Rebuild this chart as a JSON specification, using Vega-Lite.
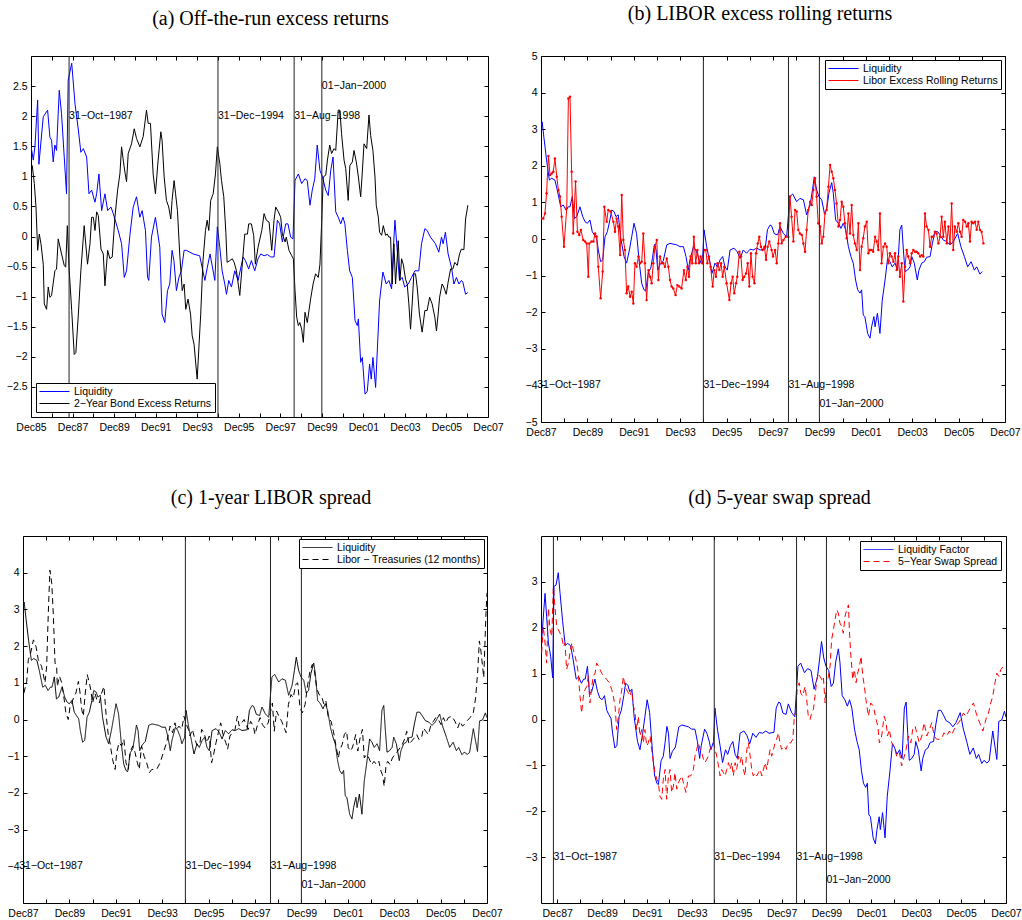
{
"$schema":"https://vega.github.io/schema/vega-lite/v6.json",
"autosize":{"type":"none"},
"padding":{"left":23,"top":56,"right":999,"bottom":864},
"background":"white",
"config":{
"font":"Liberation Sans",
"view":{"stroke":"#000000","strokeWidth":1},
"axis":{"grid":false,"domain":false,"tickColor":"#000000","tickSize":-4,"tickWidth":1,"labelColor":"#000000","labelFont":"Liberation Sans","labelFontSize":10.5,"labelPadding":8,"labelFlush":false,"labelOverlap":false,"labelBound":false},
"axisBottom":{"labelPadding":9},
"legend":{"title":null,"strokeColor":"#000000","fillColor":"#ffffff","padding":3,"cornerRadius":0,"labelFont":"Liberation Sans","labelFontSize":10.5,"labelColor":"#000000","labelLimit":400,"symbolType":"M-1,0H5","symbolSize":100,"symbolStrokeWidth":1,"labelOffset":24,"rowPadding":1,"offset":5},
"title":{"font":"Liberation Serif","fontSize":20,"fontWeight":"normal","color":"#000000","anchor":"middle","baseline":"alphabetic","frame":"group"},
"text":{"font":"Liberation Sans","fontSize":10.5,"align":"left","baseline":"middle","color":"#000000"}
},
"datasets":{
"events":[{"t":1987.833,"label":"31−Oct−1987"},{"t":1995.0,"label":"31−Dec−1994"},{"t":1998.667,"label":"31−Aug−1998"},{"t":2000.0,"label":"01−Jan−2000"}],
"liqA":[{"t":1986.0,"v":1.5},{"t":1986.11,"v":1.27},{"t":1986.19,"v":1.5},{"t":1986.32,"v":2.27},{"t":1986.38,"v":1.2},{"t":1986.59,"v":1.99},{"t":1986.8,"v":2.1},{"t":1986.91,"v":1.65},{"t":1986.99,"v":1.6},{"t":1987.07,"v":1.24},{"t":1987.15,"v":1.52},{"t":1987.23,"v":1.43},{"t":1987.36,"v":2.43},{"t":1987.47,"v":2.04},{"t":1987.6,"v":1.32},{"t":1987.71,"v":0.71},{"t":1987.79,"v":2.6},{"t":1987.96,"v":2.88},{"t":1988.12,"v":2.2},{"t":1988.28,"v":1.77},{"t":1988.4,"v":1.4},{"t":1988.52,"v":1.46},{"t":1988.68,"v":1.32},{"t":1988.79,"v":0.71},{"t":1988.92,"v":0.77},{"t":1989.08,"v":0.57},{"t":1989.16,"v":0.71},{"t":1989.27,"v":1.04},{"t":1989.4,"v":0.43},{"t":1989.56,"v":0.71},{"t":1989.69,"v":0.43},{"t":1989.85,"v":0.49},{"t":1989.96,"v":0.38},{"t":1990.2,"v":0.1},{"t":1990.36,"v":-0.12},{"t":1990.49,"v":-0.68},{"t":1990.6,"v":-0.57},{"t":1990.76,"v":0.02},{"t":1990.92,"v":0.49},{"t":1991.08,"v":0.66},{"t":1991.24,"v":0.32},{"t":1991.35,"v":0.43},{"t":1991.51,"v":0.1},{"t":1991.61,"v":-0.68},{"t":1991.67,"v":-0.73},{"t":1991.8,"v":-0.01},{"t":1991.99,"v":0.32},{"t":1992.2,"v":-0.18},{"t":1992.31,"v":-1.29},{"t":1992.44,"v":-1.43},{"t":1992.57,"v":-0.9},{"t":1992.68,"v":-0.79},{"t":1992.79,"v":-0.23},{"t":1992.88,"v":-0.4},{"t":1993.0,"v":-0.9},{"t":1993.12,"v":-0.68},{"t":1993.24,"v":-0.57},{"t":1993.37,"v":-0.23},{"t":1993.48,"v":-0.23},{"t":1993.8,"v":-0.29},{"t":1994.12,"v":-0.32},{"t":1994.37,"v":-0.73},{"t":1994.49,"v":-0.51},{"t":1994.62,"v":-0.29},{"t":1994.85,"v":-0.73},{"t":1994.97,"v":0.16},{"t":1995.09,"v":-0.18},{"t":1995.2,"v":-0.57},{"t":1995.33,"v":-0.79},{"t":1995.41,"v":-0.96},{"t":1995.52,"v":-0.73},{"t":1995.65,"v":-0.84},{"t":1995.81,"v":-0.57},{"t":1995.97,"v":-0.73},{"t":1996.21,"v":-0.34},{"t":1996.32,"v":-0.4},{"t":1996.48,"v":-0.54},{"t":1996.61,"v":-0.4},{"t":1996.77,"v":-0.57},{"t":1996.93,"v":-0.37},{"t":1997.06,"v":-0.29},{"t":1997.22,"v":-0.32},{"t":1997.38,"v":-0.3},{"t":1997.54,"v":-0.34},{"t":1997.7,"v":-0.34},{"t":1997.86,"v":0.27},{"t":1997.97,"v":0.21},{"t":1998.1,"v":-0.09},{"t":1998.26,"v":0.21},{"t":1998.37,"v":0.21},{"t":1998.5,"v":-0.01},{"t":1998.61,"v":-0.04},{"t":1998.71,"v":0.93},{"t":1998.87,"v":1.04},{"t":1999.03,"v":0.88},{"t":1999.19,"v":0.96},{"t":1999.3,"v":0.93},{"t":1999.43,"v":0.52},{"t":1999.54,"v":0.77},{"t":1999.66,"v":0.96},{"t":1999.78,"v":1.52},{"t":1999.91,"v":1.1},{"t":2000.03,"v":0.99},{"t":2000.19,"v":0.77},{"t":2000.31,"v":0.68},{"t":2000.43,"v":1.1},{"t":2000.54,"v":1.32},{"t":2000.67,"v":0.41},{"t":2000.79,"v":0.32},{"t":2000.91,"v":0.21},{"t":2001.02,"v":0.32},{"t":2001.11,"v":0.21},{"t":2001.23,"v":-0.23},{"t":2001.34,"v":-0.57},{"t":2001.47,"v":-0.68},{"t":2001.6,"v":-1.4},{"t":2001.71,"v":-1.48},{"t":2001.76,"v":-1.37},{"t":2001.87,"v":-2.09},{"t":2001.95,"v":-2.01},{"t":2002.08,"v":-2.62},{"t":2002.19,"v":-2.57},{"t":2002.3,"v":-2.12},{"t":2002.38,"v":-2.37},{"t":2002.46,"v":-2.01},{"t":2002.59,"v":-2.51},{"t":2002.78,"v":-1.07},{"t":2002.94,"v":-0.59},{"t":2003.1,"v":-0.79},{"t":2003.23,"v":-0.73},{"t":2003.36,"v":-0.87},{"t":2003.44,"v":-0.23},{"t":2003.52,"v":0.27},{"t":2003.63,"v":-0.23},{"t":2003.74,"v":-0.73},{"t":2003.87,"v":-0.68},{"t":2003.99,"v":-0.84},{"t":2004.16,"v":-0.79},{"t":2004.32,"v":-0.68},{"t":2004.48,"v":-0.57},{"t":2004.67,"v":-0.57},{"t":2004.8,"v":-0.12},{"t":2004.96,"v":0.13},{"t":2005.07,"v":0.1},{"t":2005.23,"v":-0.01},{"t":2005.47,"v":-0.12},{"t":2005.63,"v":-0.26},{"t":2005.76,"v":-0.01},{"t":2005.84,"v":-0.12},{"t":2005.95,"v":0.07},{"t":2006.08,"v":-0.29},{"t":2006.24,"v":-0.51},{"t":2006.36,"v":-0.79},{"t":2006.48,"v":-0.68},{"t":2006.6,"v":-0.79},{"t":2006.72,"v":-0.73},{"t":2006.79,"v":-0.76},{"t":2006.92,"v":-0.96},{"t":2007.03,"v":-0.93}],
"bondA":[{"t":1986.0,"v":1.16},{"t":1986.06,"v":1.18},{"t":1986.16,"v":0.88},{"t":1986.24,"v":0.49},{"t":1986.32,"v":-0.23},{"t":1986.4,"v":0.04},{"t":1986.48,"v":-0.12},{"t":1986.59,"v":-0.46},{"t":1986.64,"v":-1.12},{"t":1986.75,"v":-1.21},{"t":1986.83,"v":-0.84},{"t":1986.91,"v":-1.01},{"t":1986.99,"v":-0.98},{"t":1987.15,"v":-0.57},{"t":1987.23,"v":-0.54},{"t":1987.31,"v":-0.04},{"t":1987.47,"v":-0.29},{"t":1987.6,"v":-0.48},{"t":1987.67,"v":-0.51},{"t":1987.75,"v":0.18},{"t":1987.83,"v":-0.51},{"t":1987.96,"v":-1.23},{"t":1988.08,"v":-1.96},{"t":1988.16,"v":-1.93},{"t":1988.28,"v":-1.29},{"t":1988.4,"v":-0.57},{"t":1988.56,"v":0.18},{"t":1988.72,"v":-0.46},{"t":1988.84,"v":-0.12},{"t":1988.92,"v":0.32},{"t":1989.0,"v":0.32},{"t":1989.08,"v":0.1},{"t":1989.16,"v":0.41},{"t":1989.24,"v":0.35},{"t":1989.37,"v":-0.21},{"t":1989.48,"v":-0.29},{"t":1989.56,"v":-0.82},{"t":1989.69,"v":-0.23},{"t":1989.8,"v":-0.37},{"t":1989.91,"v":-0.34},{"t":1990.04,"v":0.32},{"t":1990.17,"v":0.77},{"t":1990.28,"v":1.04},{"t":1990.36,"v":1.49},{"t":1990.44,"v":1.27},{"t":1990.52,"v":1.07},{"t":1990.6,"v":0.91},{"t":1990.68,"v":1.38},{"t":1990.84,"v":1.54},{"t":1990.97,"v":1.79},{"t":1991.08,"v":1.63},{"t":1991.24,"v":1.49},{"t":1991.4,"v":1.66},{"t":1991.56,"v":2.1},{"t":1991.64,"v":1.88},{"t":1991.75,"v":1.88},{"t":1991.88,"v":1.04},{"t":1991.99,"v":0.71},{"t":1992.12,"v":1.27},{"t":1992.25,"v":1.74},{"t":1992.31,"v":1.6},{"t":1992.41,"v":0.99},{"t":1992.52,"v":0.6},{"t":1992.63,"v":0.49},{"t":1992.73,"v":0.29},{"t":1992.79,"v":0.6},{"t":1992.89,"v":0.93},{"t":1992.96,"v":0.71},{"t":1993.05,"v":0.43},{"t":1993.16,"v":-0.29},{"t":1993.28,"v":-0.9},{"t":1993.37,"v":-0.79},{"t":1993.45,"v":-1.21},{"t":1993.56,"v":-1.04},{"t":1993.68,"v":-1.29},{"t":1993.76,"v":-1.65},{"t":1993.85,"v":-1.79},{"t":1993.92,"v":-2.07},{"t":1994.0,"v":-2.37},{"t":1994.04,"v":-2.12},{"t":1994.17,"v":-1.29},{"t":1994.28,"v":-0.4},{"t":1994.4,"v":0.1},{"t":1994.48,"v":0.27},{"t":1994.56,"v":0.1},{"t":1994.65,"v":0.6},{"t":1994.77,"v":0.71},{"t":1994.88,"v":1.04},{"t":1994.97,"v":1.49},{"t":1995.09,"v":1.21},{"t":1995.17,"v":0.93},{"t":1995.28,"v":0.66},{"t":1995.38,"v":0.07},{"t":1995.44,"v":-0.43},{"t":1995.57,"v":-0.4},{"t":1995.69,"v":-0.37},{"t":1995.78,"v":-0.43},{"t":1995.89,"v":-0.57},{"t":1996.05,"v":-0.98},{"t":1996.16,"v":-0.51},{"t":1996.29,"v":0.04},{"t":1996.42,"v":0.04},{"t":1996.48,"v":0.21},{"t":1996.61,"v":0.21},{"t":1996.72,"v":0.02},{"t":1996.8,"v":-0.46},{"t":1996.93,"v":-0.18},{"t":1997.11,"v":0.1},{"t":1997.22,"v":0.38},{"t":1997.33,"v":0.27},{"t":1997.46,"v":0.24},{"t":1997.59,"v":-0.23},{"t":1997.7,"v":0.27},{"t":1997.78,"v":0.49},{"t":1997.91,"v":0.41},{"t":1998.02,"v":0.32},{"t":1998.1,"v":0.04},{"t":1998.23,"v":-0.09},{"t":1998.29,"v":-0.01},{"t":1998.42,"v":-0.23},{"t":1998.55,"v":-0.32},{"t":1998.63,"v":-0.37},{"t":1998.71,"v":-0.9},{"t":1998.79,"v":-1.34},{"t":1998.87,"v":-1.48},{"t":1998.94,"v":-1.43},{"t":1999.03,"v":-1.54},{"t":1999.11,"v":-1.76},{"t":1999.19,"v":-1.26},{"t":1999.3,"v":-1.43},{"t":1999.46,"v":-1.04},{"t":1999.58,"v":-0.79},{"t":1999.7,"v":-0.62},{"t":1999.83,"v":-0.68},{"t":1999.91,"v":-0.46},{"t":1999.99,"v":0.21},{"t":2000.07,"v":0.99},{"t":2000.19,"v":1.02},{"t":2000.27,"v":1.27},{"t":2000.38,"v":1.52},{"t":2000.47,"v":1.38},{"t":2000.59,"v":1.46},{"t":2000.67,"v":1.43},{"t":2000.79,"v":2.1},{"t":2000.87,"v":2.1},{"t":2000.95,"v":1.71},{"t":2001.07,"v":1.27},{"t":2001.15,"v":1.13},{"t":2001.27,"v":0.6},{"t":2001.35,"v":1.18},{"t":2001.47,"v":1.24},{"t":2001.55,"v":1.43},{"t":2001.66,"v":1.24},{"t":2001.76,"v":0.99},{"t":2001.87,"v":0.66},{"t":2001.95,"v":1.07},{"t":2002.03,"v":1.54},{"t":2002.16,"v":1.46},{"t":2002.27,"v":2.02},{"t":2002.35,"v":1.68},{"t":2002.46,"v":1.43},{"t":2002.56,"v":0.99},{"t":2002.62,"v":0.52},{"t":2002.72,"v":0.32},{"t":2002.78,"v":0.07},{"t":2002.88,"v":0.02},{"t":2002.96,"v":0.18},{"t":2003.07,"v":0.02},{"t":2003.15,"v":0.04},{"t":2003.23,"v":-0.01},{"t":2003.31,"v":-0.01},{"t":2003.39,"v":-0.79},{"t":2003.47,"v":-0.12},{"t":2003.55,"v":-0.79},{"t":2003.68,"v":-0.07},{"t":2003.76,"v":-0.73},{"t":2003.84,"v":-0.37},{"t":2003.92,"v":-0.46},{"t":2004.03,"v":-0.71},{"t":2004.11,"v":-0.79},{"t":2004.19,"v":-1.12},{"t":2004.27,"v":-1.54},{"t":2004.35,"v":-1.12},{"t":2004.43,"v":-0.62},{"t":2004.51,"v":-0.62},{"t":2004.59,"v":-0.84},{"t":2004.7,"v":-1.29},{"t":2004.83,"v":-1.59},{"t":2004.96,"v":-1.23},{"t":2005.07,"v":-1.23},{"t":2005.19,"v":-1.01},{"t":2005.31,"v":-1.12},{"t":2005.44,"v":-1.34},{"t":2005.52,"v":-1.57},{"t":2005.6,"v":-1.29},{"t":2005.67,"v":-1.01},{"t":2005.79,"v":-0.79},{"t":2005.87,"v":-0.84},{"t":2005.99,"v":-0.96},{"t":2006.08,"v":-0.76},{"t":2006.2,"v":-0.54},{"t":2006.31,"v":-0.54},{"t":2006.4,"v":-0.43},{"t":2006.52,"v":-0.48},{"t":2006.63,"v":-0.29},{"t":2006.72,"v":-0.21},{"t":2006.84,"v":-0.22},{"t":2006.92,"v":0.29},{"t":2007.03,"v":0.52}],
"liq":[{"t":1987.31,"v":1.74},{"t":1987.46,"v":2.75},{"t":1987.53,"v":2.25},{"t":1987.61,"v":1.67},{"t":1987.71,"v":1.38},{"t":1987.8,"v":0.91},{"t":1987.86,"v":2.9},{"t":1987.95,"v":2.93},{"t":1988.05,"v":3.2},{"t":1988.13,"v":2.75},{"t":1988.24,"v":2.16},{"t":1988.36,"v":1.61},{"t":1988.46,"v":1.66},{"t":1988.6,"v":1.61},{"t":1988.7,"v":1.34},{"t":1988.85,"v":0.88},{"t":1988.96,"v":0.93},{"t":1989.08,"v":0.79},{"t":1989.18,"v":0.88},{"t":1989.25,"v":0.88},{"t":1989.35,"v":1.16},{"t":1989.44,"v":0.56},{"t":1989.54,"v":0.61},{"t":1989.68,"v":0.88},{"t":1989.8,"v":0.61},{"t":1989.9,"v":0.47},{"t":1990.0,"v":0.43},{"t":1990.11,"v":0.52},{"t":1990.21,"v":0.2},{"t":1990.3,"v":0.11},{"t":1990.4,"v":0.02},{"t":1990.47,"v":-0.3},{"t":1990.57,"v":-0.62},{"t":1990.66,"v":-0.57},{"t":1990.76,"v":0.06},{"t":1990.86,"v":0.2},{"t":1990.97,"v":0.52},{"t":1991.05,"v":0.79},{"t":1991.15,"v":0.75},{"t":1991.23,"v":0.61},{"t":1991.33,"v":0.66},{"t":1991.43,"v":0.06},{"t":1991.58,"v":-0.48},{"t":1991.69,"v":-0.66},{"t":1991.81,"v":-0.3},{"t":1991.91,"v":0.06},{"t":1992.01,"v":0.43},{"t":1992.12,"v":0.15},{"t":1992.24,"v":-0.66},{"t":1992.34,"v":-1.21},{"t":1992.44,"v":-1.39},{"t":1992.51,"v":-1.42},{"t":1992.63,"v":-0.9},{"t":1992.73,"v":-0.8},{"t":1992.81,"v":-0.5},{"t":1992.89,"v":-0.15},{"t":1992.96,"v":-0.3},{"t":1993.03,"v":-0.85},{"t":1993.13,"v":-0.7},{"t":1993.27,"v":-0.6},{"t":1993.42,"v":-0.16},{"t":1993.56,"v":-0.12},{"t":1993.85,"v":-0.16},{"t":1993.99,"v":-0.21},{"t":1994.14,"v":-0.21},{"t":1994.25,"v":-0.48},{"t":1994.35,"v":-0.85},{"t":1994.42,"v":-0.57},{"t":1994.57,"v":-0.21},{"t":1994.67,"v":-0.3},{"t":1994.78,"v":-0.48},{"t":1994.85,"v":-0.66},{"t":1994.97,"v":-0.48},{"t":1995.03,"v":0.25},{"t":1995.14,"v":-0.21},{"t":1995.26,"v":-0.57},{"t":1995.37,"v":-0.94},{"t":1995.5,"v":-0.66},{"t":1995.6,"v":-0.76},{"t":1995.72,"v":-0.57},{"t":1995.83,"v":-0.48},{"t":1995.93,"v":-0.76},{"t":1996.03,"v":-0.85},{"t":1996.15,"v":-0.3},{"t":1996.32,"v":-0.25},{"t":1996.46,"v":-0.35},{"t":1996.58,"v":-0.53},{"t":1996.72,"v":-0.3},{"t":1996.86,"v":-0.39},{"t":1997.01,"v":-0.28},{"t":1997.15,"v":-0.3},{"t":1997.3,"v":-0.25},{"t":1997.44,"v":-0.3},{"t":1997.66,"v":-0.28},{"t":1997.76,"v":0.25},{"t":1997.87,"v":0.38},{"t":1997.94,"v":0.36},{"t":1998.06,"v":0.14},{"t":1998.2,"v":0.11},{"t":1998.3,"v":0.34},{"t":1998.45,"v":0.15},{"t":1998.59,"v":0.06},{"t":1998.73,"v":1.16},{"t":1998.85,"v":1.23},{"t":1999.02,"v":1.02},{"t":1999.16,"v":1.11},{"t":1999.31,"v":1.07},{"t":1999.45,"v":0.66},{"t":1999.6,"v":0.93},{"t":1999.7,"v":1.34},{"t":1999.78,"v":1.7},{"t":1999.88,"v":1.34},{"t":1999.98,"v":1.16},{"t":2000.1,"v":1.07},{"t":2000.21,"v":0.72},{"t":2000.31,"v":0.79},{"t":2000.41,"v":1.25},{"t":2000.53,"v":1.54},{"t":2000.6,"v":1.25},{"t":2000.7,"v":0.52},{"t":2000.82,"v":0.43},{"t":2000.93,"v":0.29},{"t":2001.03,"v":0.43},{"t":2001.13,"v":0.25},{"t":2001.25,"v":-0.21},{"t":2001.36,"v":-0.48},{"t":2001.46,"v":-0.66},{"t":2001.56,"v":-1.12},{"t":2001.65,"v":-1.39},{"t":2001.75,"v":-1.48},{"t":2001.82,"v":-1.39},{"t":2001.89,"v":-2.08},{"t":2001.96,"v":-2.12},{"t":2002.08,"v":-2.58},{"t":2002.18,"v":-2.71},{"t":2002.25,"v":-2.4},{"t":2002.35,"v":-2.12},{"t":2002.4,"v":-2.4},{"t":2002.5,"v":-2.03},{"t":2002.61,"v":-2.58},{"t":2002.71,"v":-1.67},{"t":2002.83,"v":-1.12},{"t":2002.94,"v":-0.53},{"t":2003.04,"v":-0.62},{"t":2003.14,"v":-0.76},{"t":2003.26,"v":-0.66},{"t":2003.37,"v":-0.85},{"t":2003.47,"v":0.25},{"t":2003.55,"v":0.38},{"t":2003.62,"v":-0.3},{"t":2003.69,"v":-0.89},{"t":2003.8,"v":-0.85},{"t":2003.91,"v":-0.76},{"t":2003.98,"v":-0.48},{"t":2004.09,"v":-0.66},{"t":2004.22,"v":-1.12},{"t":2004.29,"v":-0.85},{"t":2004.41,"v":-0.66},{"t":2004.52,"v":-0.62},{"t":2004.62,"v":-0.5},{"t":2004.77,"v":-0.48},{"t":2004.87,"v":-0.12},{"t":2004.98,"v":0.2},{"t":2005.1,"v":0.2},{"t":2005.2,"v":0.11},{"t":2005.34,"v":-0.03},{"t":2005.49,"v":-0.07},{"t":2005.63,"v":-0.16},{"t":2005.77,"v":-0.07},{"t":2005.96,"v":0.15},{"t":2006.1,"v":-0.21},{"t":2006.25,"v":-0.48},{"t":2006.39,"v":-0.76},{"t":2006.54,"v":-0.62},{"t":2006.68,"v":-0.85},{"t":2006.78,"v":-0.76},{"t":2006.92,"v":-0.96},{"t":2007.02,"v":-0.89},{"t":2007.15,"v":-0.95},{"t":2007.25,"v":-0.9},{"t":2007.41,"v":-0.25},{"t":2007.59,"v":-0.87},{"t":2007.68,"v":-0.04},{"t":2007.81,"v":-0.01},{"t":2007.93,"v":0.18},{"t":2008.0,"v":0.05}],
"libor":[{"t":1988.03,"v":0.56},{"t":1988.1,"v":0.56},{"t":1988.17,"v":0.7},{"t":1988.24,"v":1.25},{"t":1988.32,"v":2.27},{"t":1988.39,"v":1.75},{"t":1988.46,"v":1.79},{"t":1988.53,"v":1.84},{"t":1988.6,"v":2.2},{"t":1988.68,"v":1.7},{"t":1988.75,"v":1.34},{"t":1988.82,"v":1.16},{"t":1988.89,"v":0.61},{"t":1988.99,"v":-0.21},{"t":1989.11,"v":0.84},{"t":1989.18,"v":3.84},{"t":1989.25,"v":3.89},{"t":1989.32,"v":1.84},{"t":1989.39,"v":0.15},{"t":1989.49,"v":1.57},{"t":1989.57,"v":0.2},{"t":1989.65,"v":0.11},{"t":1989.72,"v":0.25},{"t":1989.82,"v":-0.03},{"t":1989.9,"v":-0.07},{"t":1989.97,"v":-0.12},{"t":1990.04,"v":-1.03},{"t":1990.08,"v":-0.12},{"t":1990.18,"v":-0.07},{"t":1990.26,"v":-0.07},{"t":1990.33,"v":0.15},{"t":1990.4,"v":0.06},{"t":1990.47,"v":-0.76},{"t":1990.57,"v":-1.62},{"t":1990.66,"v":-0.89},{"t":1990.73,"v":0.88},{"t":1990.83,"v":0.47},{"t":1990.9,"v":0.79},{"t":1991.0,"v":0.75},{"t":1991.12,"v":0.47},{"t":1991.19,"v":0.2},{"t":1991.26,"v":0.56},{"t":1991.33,"v":0.34},{"t":1991.41,"v":-0.44},{"t":1991.48,"v":1.2},{"t":1991.55,"v":-0.03},{"t":1991.62,"v":-0.3},{"t":1991.69,"v":-1.48},{"t":1991.76,"v":-1.3},{"t":1991.84,"v":-1.58},{"t":1991.91,"v":-1.44},{"t":1991.98,"v":-1.76},{"t":1992.05,"v":-0.66},{"t":1992.12,"v":-0.76},{"t":1992.2,"v":-0.48},{"t":1992.27,"v":-0.66},{"t":1992.34,"v":-0.62},{"t":1992.41,"v":0.15},{"t":1992.48,"v":-0.66},{"t":1992.55,"v":-1.67},{"t":1992.63,"v":-0.85},{"t":1992.7,"v":-1.03},{"t":1992.77,"v":-1.21},{"t":1992.84,"v":-0.66},{"t":1992.91,"v":-0.21},{"t":1992.99,"v":-0.03},{"t":1993.06,"v":-1.12},{"t":1993.13,"v":-0.48},{"t":1993.2,"v":-0.66},{"t":1993.27,"v":-0.66},{"t":1993.34,"v":-0.76},{"t":1993.42,"v":-0.53},{"t":1993.49,"v":-0.76},{"t":1993.56,"v":-1.12},{"t":1993.63,"v":-1.3},{"t":1993.7,"v":-1.35},{"t":1993.8,"v":-1.53},{"t":1993.88,"v":-1.26},{"t":1993.96,"v":-1.3},{"t":1994.06,"v":-1.35},{"t":1994.16,"v":-0.85},{"t":1994.24,"v":-1.12},{"t":1994.31,"v":-0.76},{"t":1994.38,"v":-1.03},{"t":1994.45,"v":-0.48},{"t":1994.52,"v":-0.66},{"t":1994.59,"v":0.06},{"t":1994.67,"v":-0.66},{"t":1994.74,"v":-0.3},{"t":1994.81,"v":-0.66},{"t":1994.88,"v":-0.48},{"t":1994.95,"v":-0.66},{"t":1995.03,"v":-0.3},{"t":1995.1,"v":-0.3},{"t":1995.17,"v":-0.66},{"t":1995.24,"v":-0.48},{"t":1995.31,"v":-0.76},{"t":1995.4,"v":-1.3},{"t":1995.47,"v":-0.85},{"t":1995.54,"v":-1.03},{"t":1995.61,"v":-0.66},{"t":1995.69,"v":-0.85},{"t":1995.76,"v":-0.66},{"t":1995.83,"v":-1.03},{"t":1995.9,"v":-0.76},{"t":1996.0,"v":-1.21},{"t":1996.12,"v":-1.67},{"t":1996.19,"v":-1.21},{"t":1996.26,"v":-1.03},{"t":1996.33,"v":-1.48},{"t":1996.41,"v":-1.21},{"t":1996.46,"v":-1.03},{"t":1996.55,"v":-0.35},{"t":1996.62,"v":-0.48},{"t":1996.69,"v":-1.12},{"t":1996.76,"v":-1.03},{"t":1996.84,"v":-0.94},{"t":1996.91,"v":-0.66},{"t":1996.98,"v":-1.3},{"t":1997.05,"v":-0.39},{"t":1997.12,"v":-1.03},{"t":1997.2,"v":-1.21},{"t":1997.27,"v":-0.39},{"t":1997.34,"v":-0.12},{"t":1997.41,"v":0.06},{"t":1997.48,"v":-0.21},{"t":1997.55,"v":-0.3},{"t":1997.63,"v":-0.21},{"t":1997.7,"v":-0.57},{"t":1997.77,"v":-0.21},{"t":1997.84,"v":-0.07},{"t":1997.94,"v":-0.3},{"t":1998.0,"v":-0.48},{"t":1998.09,"v":-0.3},{"t":1998.16,"v":-0.66},{"t":1998.23,"v":-0.12},{"t":1998.3,"v":0.43},{"t":1998.37,"v":-0.12},{"t":1998.45,"v":-0.03},{"t":1998.55,"v":0.06},{"t":1998.66,"v":0.06},{"t":1998.73,"v":1.16},{"t":1998.8,"v":0.61},{"t":1998.88,"v":-0.07},{"t":1998.95,"v":0.79},{"t":1999.02,"v":0.75},{"t":1999.09,"v":0.25},{"t":1999.16,"v":0.15},{"t":1999.24,"v":0.11},{"t":1999.31,"v":-0.12},{"t":1999.38,"v":-0.35},{"t":1999.45,"v":0.25},{"t":1999.52,"v":0.79},{"t":1999.6,"v":1.02},{"t":1999.67,"v":0.93},{"t":1999.74,"v":1.34},{"t":1999.81,"v":1.66},{"t":1999.88,"v":1.16},{"t":1999.95,"v":0.43},{"t":2000.03,"v":0.34},{"t":2000.1,"v":-0.12},{"t":2000.17,"v":0.06},{"t":2000.24,"v":0.7},{"t":2000.31,"v":0.79},{"t":2000.39,"v":1.43},{"t":2000.46,"v":2.02},{"t":2000.53,"v":1.84},{"t":2000.6,"v":1.66},{"t":2000.67,"v":1.34},{"t":2000.74,"v":0.97},{"t":2000.82,"v":0.34},{"t":2000.89,"v":0.52},{"t":2000.96,"v":1.02},{"t":2001.03,"v":0.88},{"t":2001.1,"v":0.43},{"t":2001.18,"v":0.02},{"t":2001.25,"v":0.7},{"t":2001.32,"v":0.15},{"t":2001.39,"v":0.93},{"t":2001.46,"v":0.11},{"t":2001.53,"v":-0.12},{"t":2001.61,"v":-0.3},{"t":2001.68,"v":0.43},{"t":2001.75,"v":-0.85},{"t":2001.82,"v":-0.21},{"t":2001.89,"v":0.02},{"t":2001.96,"v":0.34},{"t":2002.04,"v":0.47},{"t":2002.11,"v":-0.39},{"t":2002.18,"v":-0.3},{"t":2002.25,"v":-0.3},{"t":2002.32,"v":-0.35},{"t":2002.4,"v":0.06},{"t":2002.47,"v":-0.07},{"t":2002.54,"v":-0.3},{"t":2002.61,"v":0.7},{"t":2002.68,"v":-0.66},{"t":2002.76,"v":-0.21},{"t":2002.83,"v":-0.12},{"t":2002.9,"v":-0.21},{"t":2002.97,"v":-0.66},{"t":2003.04,"v":-0.39},{"t":2003.11,"v":-0.48},{"t":2003.19,"v":-0.62},{"t":2003.26,"v":-0.39},{"t":2003.33,"v":-0.85},{"t":2003.4,"v":-0.48},{"t":2003.47,"v":-1.03},{"t":2003.55,"v":-0.66},{"t":2003.62,"v":-1.71},{"t":2003.69,"v":-0.76},{"t":2003.76,"v":-0.3},{"t":2003.83,"v":-0.48},{"t":2003.91,"v":-0.66},{"t":2003.98,"v":-0.39},{"t":2004.05,"v":-0.3},{"t":2004.12,"v":-0.35},{"t":2004.19,"v":-0.35},{"t":2004.26,"v":-0.39},{"t":2004.34,"v":-0.48},{"t":2004.41,"v":-0.44},{"t":2004.48,"v":-0.48},{"t":2004.55,"v":0.7},{"t":2004.62,"v":0.34},{"t":2004.7,"v":0.25},{"t":2004.77,"v":-0.21},{"t":2004.84,"v":0.06},{"t":2004.91,"v":0.06},{"t":2004.98,"v":0.2},{"t":2005.05,"v":0.15},{"t":2005.13,"v":-0.12},{"t":2005.2,"v":0.06},{"t":2005.27,"v":0.61},{"t":2005.34,"v":0.06},{"t":2005.41,"v":0.47},{"t":2005.49,"v":-0.12},{"t":2005.56,"v":0.34},{"t":2005.63,"v":-0.12},{"t":2005.7,"v":0.97},{"t":2005.77,"v":-0.3},{"t":2005.84,"v":0.34},{"t":2005.92,"v":0.2},{"t":2005.99,"v":0.43},{"t":2006.06,"v":0.2},{"t":2006.13,"v":0.06},{"t":2006.2,"v":0.52},{"t":2006.28,"v":0.47},{"t":2006.35,"v":0.34},{"t":2006.42,"v":0.43},{"t":2006.49,"v":-0.07},{"t":2006.56,"v":0.47},{"t":2006.63,"v":0.43},{"t":2006.71,"v":0.47},{"t":2006.78,"v":0.25},{"t":2006.85,"v":0.47},{"t":2006.92,"v":0.25},{"t":2006.99,"v":0.2},{"t":2007.07,"v":-0.12}],
"spread":[{"t":1988.04,"v":0.72},{"t":1988.16,"v":1.04},{"t":1988.23,"v":1.63},{"t":1988.33,"v":1.81},{"t":1988.45,"v":2.17},{"t":1988.56,"v":1.99},{"t":1988.66,"v":1.63},{"t":1988.73,"v":1.54},{"t":1988.8,"v":1.45},{"t":1988.95,"v":1.0},{"t":1989.02,"v":1.45},{"t":1989.09,"v":2.9},{"t":1989.16,"v":4.07},{"t":1989.24,"v":3.71},{"t":1989.31,"v":2.81},{"t":1989.38,"v":1.54},{"t":1989.45,"v":1.45},{"t":1989.48,"v":0.9},{"t":1989.57,"v":1.18},{"t":1989.67,"v":1.0},{"t":1989.74,"v":0.72},{"t":1989.85,"v":0.18},{"t":1989.95,"v":0.0},{"t":1990.03,"v":0.36},{"t":1990.1,"v":0.45},{"t":1990.2,"v":0.63},{"t":1990.28,"v":0.72},{"t":1990.39,"v":1.04},{"t":1990.46,"v":0.72},{"t":1990.53,"v":0.27},{"t":1990.6,"v":0.09},{"t":1990.67,"v":0.63},{"t":1990.77,"v":1.22},{"t":1990.86,"v":1.0},{"t":1990.92,"v":0.81},{"t":1991.0,"v":0.45},{"t":1991.1,"v":0.72},{"t":1991.18,"v":0.54},{"t":1991.29,"v":0.45},{"t":1991.39,"v":0.72},{"t":1991.49,"v":0.9},{"t":1991.58,"v":0.14},{"t":1991.68,"v":-0.45},{"t":1991.75,"v":-0.63},{"t":1991.86,"v":-1.09},{"t":1991.97,"v":-1.36},{"t":1992.04,"v":-0.9},{"t":1992.14,"v":-0.63},{"t":1992.25,"v":-0.72},{"t":1992.35,"v":-0.54},{"t":1992.44,"v":-1.18},{"t":1992.54,"v":-1.36},{"t":1992.61,"v":-0.9},{"t":1992.73,"v":-0.72},{"t":1992.83,"v":-0.9},{"t":1992.93,"v":-1.18},{"t":1993.01,"v":-1.36},{"t":1993.11,"v":-0.72},{"t":1993.22,"v":-1.0},{"t":1993.33,"v":-1.18},{"t":1993.45,"v":-1.45},{"t":1993.55,"v":-1.36},{"t":1993.76,"v":-1.36},{"t":1993.91,"v":-1.18},{"t":1994.05,"v":-0.9},{"t":1994.19,"v":-0.63},{"t":1994.34,"v":-0.18},{"t":1994.45,"v":-0.36},{"t":1994.55,"v":-0.09},{"t":1994.62,"v":-0.27},{"t":1994.72,"v":-0.18},{"t":1994.84,"v":-0.27},{"t":1994.94,"v":0.09},{"t":1995.01,"v":-0.09},{"t":1995.13,"v":-0.27},{"t":1995.2,"v":-0.45},{"t":1995.3,"v":-0.27},{"t":1995.41,"v":-0.54},{"t":1995.51,"v":-0.72},{"t":1995.63,"v":-0.63},{"t":1995.7,"v":-0.27},{"t":1995.8,"v":-0.36},{"t":1995.92,"v":-0.63},{"t":1996.03,"v":-0.45},{"t":1996.13,"v":-1.18},{"t":1996.2,"v":-1.0},{"t":1996.32,"v":-0.63},{"t":1996.42,"v":-0.36},{"t":1996.52,"v":-0.09},{"t":1996.64,"v":-0.45},{"t":1996.74,"v":-0.63},{"t":1996.82,"v":-0.81},{"t":1996.92,"v":-0.45},{"t":1997.02,"v":-0.36},{"t":1997.14,"v":-0.27},{"t":1997.24,"v":0.09},{"t":1997.32,"v":-0.18},{"t":1997.43,"v":-0.09},{"t":1997.53,"v":0.0},{"t":1997.64,"v":-0.18},{"t":1997.71,"v":-0.27},{"t":1997.81,"v":-0.05},{"t":1997.93,"v":-0.18},{"t":1998.0,"v":-0.41},{"t":1998.11,"v":-0.14},{"t":1998.22,"v":0.05},{"t":1998.32,"v":-0.14},{"t":1998.43,"v":-0.23},{"t":1998.57,"v":-0.09},{"t":1998.75,"v":0.45},{"t":1998.83,"v":-0.32},{"t":1998.93,"v":0.23},{"t":1999.03,"v":0.09},{"t":1999.15,"v":-0.05},{"t":1999.26,"v":-0.23},{"t":1999.34,"v":-0.36},{"t":1999.44,"v":0.41},{"t":1999.55,"v":0.68},{"t":1999.65,"v":0.59},{"t":1999.75,"v":0.95},{"t":1999.84,"v":1.0},{"t":1999.94,"v":0.32},{"t":2000.04,"v":0.18},{"t":2000.16,"v":0.41},{"t":2000.27,"v":0.95},{"t":2000.37,"v":1.32},{"t":2000.47,"v":1.5},{"t":2000.56,"v":1.32},{"t":2000.66,"v":0.86},{"t":2000.76,"v":0.68},{"t":2000.87,"v":0.64},{"t":2000.97,"v":0.41},{"t":2001.06,"v":0.5},{"t":2001.16,"v":0.05},{"t":2001.28,"v":-0.05},{"t":2001.38,"v":-0.32},{"t":2001.48,"v":-0.68},{"t":2001.59,"v":-1.05},{"t":2001.66,"v":-0.82},{"t":2001.76,"v":-0.68},{"t":2001.85,"v":-0.41},{"t":2001.95,"v":-0.32},{"t":2002.02,"v":-0.77},{"t":2002.14,"v":-0.86},{"t":2002.24,"v":-0.68},{"t":2002.34,"v":-0.41},{"t":2002.43,"v":-0.86},{"t":2002.53,"v":-0.5},{"t":2002.63,"v":-0.27},{"t":2002.71,"v":-1.05},{"t":2002.81,"v":-0.95},{"t":2002.91,"v":-1.05},{"t":2003.03,"v":-1.23},{"t":2003.13,"v":-1.14},{"t":2003.24,"v":-1.23},{"t":2003.34,"v":-1.14},{"t":2003.43,"v":-1.41},{"t":2003.49,"v":-1.5},{"t":2003.57,"v":-1.82},{"t":2003.65,"v":-1.23},{"t":2003.72,"v":-1.14},{"t":2003.82,"v":-1.23},{"t":2003.92,"v":-1.05},{"t":2004.03,"v":-0.95},{"t":2004.15,"v":-0.86},{"t":2004.25,"v":-0.77},{"t":2004.35,"v":-0.68},{"t":2004.47,"v":-0.5},{"t":2004.54,"v":-0.32},{"t":2004.64,"v":-0.68},{"t":2004.75,"v":-0.59},{"t":2004.87,"v":-0.5},{"t":2004.97,"v":-0.41},{"t":2005.07,"v":-0.55},{"t":2005.18,"v":-0.5},{"t":2005.26,"v":-0.23},{"t":2005.36,"v":-0.32},{"t":2005.47,"v":-0.41},{"t":2005.59,"v":-0.14},{"t":2005.69,"v":-0.05},{"t":2005.79,"v":0.05},{"t":2005.9,"v":0.0},{"t":2006.02,"v":-0.14},{"t":2006.12,"v":0.05},{"t":2006.22,"v":-0.09},{"t":2006.33,"v":0.05},{"t":2006.48,"v":0.09},{"t":2006.62,"v":-0.05},{"t":2006.74,"v":-0.23},{"t":2006.84,"v":-0.05},{"t":2006.94,"v":-0.18},{"t":2007.02,"v":-0.14},{"t":2007.12,"v":-0.05},{"t":2007.27,"v":0.05},{"t":2007.41,"v":0.18},{"t":2007.51,"v":0.59},{"t":2007.6,"v":1.32},{"t":2007.67,"v":2.14},{"t":2007.74,"v":1.86},{"t":2007.8,"v":1.5},{"t":2007.86,"v":1.14},{"t":2007.91,"v":2.05},{"t":2007.96,"v":2.95},{"t":2008.0,"v":3.45}],
"swap":[{"t":1987.31,"v":1.45},{"t":1987.38,"v":2.03},{"t":1987.46,"v":1.67},{"t":1987.53,"v":1.23},{"t":1987.61,"v":2.43},{"t":1987.68,"v":1.96},{"t":1987.76,"v":1.81},{"t":1987.83,"v":2.9},{"t":1987.9,"v":2.46},{"t":1987.98,"v":2.03},{"t":1988.05,"v":1.96},{"t":1988.13,"v":1.88},{"t":1988.2,"v":1.81},{"t":1988.28,"v":1.59},{"t":1988.35,"v":1.67},{"t":1988.42,"v":1.09},{"t":1988.5,"v":1.23},{"t":1988.57,"v":1.45},{"t":1988.65,"v":1.67},{"t":1988.72,"v":1.52},{"t":1988.8,"v":1.38},{"t":1988.87,"v":1.23},{"t":1988.94,"v":1.01},{"t":1989.02,"v":0.51},{"t":1989.09,"v":0.14},{"t":1989.17,"v":0.51},{"t":1989.24,"v":0.65},{"t":1989.32,"v":0.72},{"t":1989.39,"v":0.94},{"t":1989.46,"v":0.36},{"t":1989.54,"v":0.72},{"t":1989.61,"v":0.94},{"t":1989.69,"v":1.01},{"t":1989.76,"v":1.23},{"t":1989.84,"v":1.16},{"t":1989.91,"v":1.09},{"t":1989.98,"v":1.01},{"t":1990.09,"v":0.94},{"t":1990.21,"v":0.87},{"t":1990.33,"v":0.8},{"t":1990.43,"v":0.65},{"t":1990.5,"v":0.51},{"t":1990.58,"v":0.29},{"t":1990.65,"v":-0.22},{"t":1990.73,"v":0.07},{"t":1990.8,"v":0.43},{"t":1990.88,"v":0.65},{"t":1990.95,"v":0.94},{"t":1991.02,"v":0.72},{"t":1991.1,"v":0.65},{"t":1991.17,"v":0.58},{"t":1991.25,"v":0.51},{"t":1991.32,"v":0.65},{"t":1991.4,"v":0.29},{"t":1991.47,"v":0.14},{"t":1991.54,"v":-0.22},{"t":1991.62,"v":0.07},{"t":1991.69,"v":-0.36},{"t":1991.77,"v":-0.22},{"t":1991.84,"v":-0.51},{"t":1991.91,"v":-0.22},{"t":1991.99,"v":-0.58},{"t":1992.06,"v":-0.51},{"t":1992.14,"v":-0.36},{"t":1992.21,"v":-0.65},{"t":1992.29,"v":-0.94},{"t":1992.36,"v":-1.16},{"t":1992.44,"v":-1.3},{"t":1992.51,"v":-1.38},{"t":1992.58,"v":-1.67},{"t":1992.66,"v":-1.74},{"t":1992.73,"v":-1.3},{"t":1992.81,"v":-1.09},{"t":1992.88,"v":-1.74},{"t":1992.96,"v":-1.23},{"t":1993.03,"v":-1.09},{"t":1993.1,"v":-1.59},{"t":1993.18,"v":-1.45},{"t":1993.25,"v":-1.16},{"t":1993.33,"v":-1.52},{"t":1993.4,"v":-1.38},{"t":1993.48,"v":-1.3},{"t":1993.55,"v":-1.23},{"t":1993.66,"v":-1.45},{"t":1993.74,"v":-1.59},{"t":1993.85,"v":-1.23},{"t":1993.95,"v":-1.23},{"t":1994.07,"v":-1.09},{"t":1994.14,"v":-0.8},{"t":1994.22,"v":-0.65},{"t":1994.29,"v":-0.51},{"t":1994.37,"v":-0.65},{"t":1994.44,"v":-0.72},{"t":1994.52,"v":-0.87},{"t":1994.59,"v":-0.94},{"t":1994.66,"v":-0.87},{"t":1994.74,"v":-0.8},{"t":1994.81,"v":-0.65},{"t":1994.89,"v":-0.58},{"t":1994.96,"v":-0.51},{"t":1995.04,"v":-0.65},{"t":1995.11,"v":-0.8},{"t":1995.19,"v":-1.01},{"t":1995.26,"v":-1.23},{"t":1995.33,"v":-1.09},{"t":1995.41,"v":-1.16},{"t":1995.48,"v":-1.23},{"t":1995.56,"v":-1.09},{"t":1995.63,"v":-0.94},{"t":1995.71,"v":-1.09},{"t":1995.78,"v":-0.94},{"t":1995.85,"v":-1.23},{"t":1995.93,"v":-0.94},{"t":1996.0,"v":-1.09},{"t":1996.08,"v":-0.8},{"t":1996.15,"v":-0.94},{"t":1996.22,"v":-0.8},{"t":1996.3,"v":-1.09},{"t":1996.37,"v":-1.23},{"t":1996.45,"v":-0.65},{"t":1996.52,"v":-0.51},{"t":1996.6,"v":-0.8},{"t":1996.67,"v":-1.09},{"t":1996.74,"v":-1.23},{"t":1996.82,"v":-1.16},{"t":1996.89,"v":-1.23},{"t":1996.97,"v":-1.16},{"t":1997.04,"v":-1.09},{"t":1997.12,"v":-1.23},{"t":1997.19,"v":-1.09},{"t":1997.27,"v":-0.94},{"t":1997.34,"v":-1.09},{"t":1997.41,"v":-0.87},{"t":1997.49,"v":-0.65},{"t":1997.56,"v":-0.8},{"t":1997.64,"v":-0.65},{"t":1997.71,"v":-0.51},{"t":1997.78,"v":-0.43},{"t":1997.86,"v":-0.29},{"t":1997.93,"v":-0.51},{"t":1998.0,"v":-0.65},{"t":1998.11,"v":-0.58},{"t":1998.2,"v":-0.65},{"t":1998.3,"v":-0.51},{"t":1998.41,"v":-0.51},{"t":1998.5,"v":-0.43},{"t":1998.56,"v":0.0},{"t":1998.64,"v":0.22},{"t":1998.7,"v":0.72},{"t":1998.79,"v":0.8},{"t":1998.85,"v":0.58},{"t":1998.94,"v":0.51},{"t":1999.05,"v":0.72},{"t":1999.12,"v":0.43},{"t":1999.19,"v":0.07},{"t":1999.27,"v":0.0},{"t":1999.34,"v":0.14},{"t":1999.42,"v":0.22},{"t":1999.49,"v":0.51},{"t":1999.57,"v":0.87},{"t":1999.64,"v":1.01},{"t":1999.71,"v":0.94},{"t":1999.79,"v":0.87},{"t":1999.86,"v":0.94},{"t":1999.94,"v":0.36},{"t":2000.01,"v":0.8},{"t":2000.09,"v":0.94},{"t":2000.16,"v":1.16},{"t":2000.23,"v":1.74},{"t":2000.31,"v":1.96},{"t":2000.38,"v":2.17},{"t":2000.46,"v":2.39},{"t":2000.53,"v":2.32},{"t":2000.6,"v":2.1},{"t":2000.68,"v":2.03},{"t":2000.75,"v":1.88},{"t":2000.83,"v":2.25},{"t":2000.9,"v":2.39},{"t":2000.98,"v":2.5},{"t":2001.02,"v":1.96},{"t":2001.08,"v":1.45},{"t":2001.17,"v":0.87},{"t":2001.24,"v":1.09},{"t":2001.32,"v":0.8},{"t":2001.39,"v":1.01},{"t":2001.47,"v":1.16},{"t":2001.54,"v":1.38},{"t":2001.62,"v":0.94},{"t":2001.69,"v":0.72},{"t":2001.76,"v":0.43},{"t":2001.87,"v":0.07},{"t":2001.97,"v":0.36},{"t":2002.09,"v":0.29},{"t":2002.21,"v":0.0},{"t":2002.29,"v":-0.14},{"t":2002.36,"v":-0.51},{"t":2002.46,"v":-0.36},{"t":2002.57,"v":0.07},{"t":2002.66,"v":-0.07},{"t":2002.72,"v":-0.36},{"t":2002.8,"v":-0.22},{"t":2002.91,"v":-0.51},{"t":2003.01,"v":-0.58},{"t":2003.13,"v":-0.8},{"t":2003.25,"v":-0.72},{"t":2003.35,"v":-1.01},{"t":2003.43,"v":-0.87},{"t":2003.55,"v":-0.65},{"t":2003.65,"v":-0.36},{"t":2003.76,"v":-0.51},{"t":2003.84,"v":-0.22},{"t":2003.95,"v":-0.14},{"t":2004.02,"v":-0.29},{"t":2004.14,"v":-0.51},{"t":2004.25,"v":-0.36},{"t":2004.35,"v":-0.07},{"t":2004.47,"v":-0.36},{"t":2004.59,"v":-0.22},{"t":2004.69,"v":-0.07},{"t":2004.8,"v":-0.36},{"t":2004.91,"v":-0.43},{"t":2005.03,"v":-0.43},{"t":2005.14,"v":-0.4},{"t":2005.24,"v":-0.29},{"t":2005.36,"v":-0.36},{"t":2005.48,"v":-0.25},{"t":2005.58,"v":-0.33},{"t":2005.69,"v":-0.22},{"t":2005.78,"v":-0.14},{"t":2005.88,"v":-0.07},{"t":2005.98,"v":0.0},{"t":2006.1,"v":0.14},{"t":2006.22,"v":0.07},{"t":2006.33,"v":0.18},{"t":2006.45,"v":0.29},{"t":2006.55,"v":0.36},{"t":2006.67,"v":0.14},{"t":2006.77,"v":0.0},{"t":2006.88,"v":-0.14},{"t":2006.97,"v":-0.25},{"t":2007.07,"v":-0.07},{"t":2007.14,"v":0.07},{"t":2007.22,"v":0.14},{"t":2007.32,"v":0.36},{"t":2007.41,"v":0.51},{"t":2007.51,"v":0.8},{"t":2007.59,"v":1.01},{"t":2007.68,"v":0.94},{"t":2007.77,"v":1.09},{"t":2007.89,"v":1.16},{"t":2007.99,"v":1.2}]
},
"vconcat":[
{"hconcat":[
{"width":8,"height":10,"data":{"values":[]},"mark":{"type":"point","opacity":0},"view":{"stroke":null}},
{"hconcat":[
{"width":457,"height":361,
"title":{"text":"(a) Off-the-run excess returns","offset":27,"dx":11},
"layer":[
{"data":{"name":"liqA"},"mark":{"type":"line","clip":true,"strokeWidth":1},
"encoding":{
"x":{"field":"t","type":"quantitative","scale":{"domain":[1986,2008],"nice":false,"zero":false},"axis":{"orient":"bottom","title":null,"values":[1986,1987,1988,1989,1990,1991,1992,1993,1994,1995,1996,1997,1998,1999,2000,2001,2002,2003,2004,2005,2006,2007,2008],"labelExpr":"datum.value % 2 == 0 ? 'Dec' + format((datum.value - 1) % 100, '02d') : ''"}},
"y":{"field":"v","type":"quantitative","scale":{"domain":[-3,3],"nice":false,"zero":false},"axis":{"orient":"left","title":null,"values":[-2.5,-2,-1.5,-1,-0.5,0,0.5,1,1.5,2,2.5],"format":"~g"}},
"color":{"datum":"Liquidity","type":"nominal","scale":{"domain":["Liquidity","2−Year Bond Excess Returns"],"range":["#0000ff","#000000"]},"legend":{"orient":"bottom-left","offset":5}}}},
{"data":{"name":"bondA"},"mark":{"type":"line","clip":true,"strokeWidth":1},
"encoding":{
"x":{"field":"t","type":"quantitative","axis":{"orient":"top","title":null,"labels":false,"values":[1986,1987,1988,1989,1990,1991,1992,1993,1994,1995,1996,1997,1998,1999,2000,2001,2002,2003,2004,2005,2006,2007,2008]}},
"y":{"field":"v","type":"quantitative","axis":{"orient":"right","title":null,"labels":false,"values":[-2.5,-2,-1.5,-1,-0.5,0,0.5,1,1.5,2,2.5]}},
"color":{"datum":"2−Year Bond Excess Returns","type":"nominal"}}},
{"data":{"name":"events"},"mark":{"type":"rule","clip":true,"color":"#222222","strokeWidth":1},"encoding":{"x":{"field":"t","type":"quantitative","axis":null}}},
{"data":{"name":"events"},"transform":[{"filter":{"not":{"field":"label","equal":"01−Jan−2000"}}}],"mark":{"type":"text"},"encoding":{"x":{"field":"t","type":"quantitative","axis":null},"y":{"datum":2,"type":"quantitative","axis":null},"text":{"field":"label"}}},
{"data":{"name":"events"},"transform":[{"filter":{"field":"label","equal":"01−Jan−2000"}}],"mark":{"type":"text"},"encoding":{"x":{"field":"t","type":"quantitative","axis":null},"y":{"datum":2.5,"type":"quantitative","axis":null},"text":{"field":"label"}}}
],
"resolve":{"axis":{"x":"independent","y":"independent"}}},
{"width":464,"height":366,
"title":{"text":"(b) LIBOR excess rolling returns","offset":27,"dx":-13},
"layer":[
{"data":{"name":"liq"},"transform":[{"filter":"datum.t <= 2007.03"}],"mark":{"type":"line","clip":true,"strokeWidth":1},
"encoding":{
"x":{"field":"t","type":"quantitative","scale":{"domain":[1988,2008],"nice":false,"zero":false},"axis":{"orient":"bottom","title":null,"values":[1988,1989,1990,1991,1992,1993,1994,1995,1996,1997,1998,1999,2000,2001,2002,2003,2004,2005,2006,2007,2008],"labelExpr":"datum.value % 2 == 0 ? 'Dec' + format((datum.value - 1) % 100, '02d') : ''"}},
"y":{"field":"v","type":"quantitative","scale":{"domain":[-5,5],"nice":false,"zero":false},"axis":{"orient":"left","title":null,"values":[-5,-4,-3,-2,-1,0,1,2,3,4,5],"format":"~g"}},
"color":{"datum":"Liquidity","type":"nominal","scale":{"domain":["Liquidity","Libor Excess Rolling Returns"],"range":["#0000ff","#ff0000"]},"legend":{"orient":"top-right","offset":4}}}},
{"data":{"name":"libor"},"mark":{"type":"line","clip":true,"strokeWidth":1},
"encoding":{
"x":{"field":"t","type":"quantitative","axis":{"orient":"top","title":null,"labels":false,"values":[1988,1989,1990,1991,1992,1993,1994,1995,1996,1997,1998,1999,2000,2001,2002,2003,2004,2005,2006,2007,2008]}},
"y":{"field":"v","type":"quantitative","axis":{"orient":"right","title":null,"labels":false,"values":[-5,-4,-3,-2,-1,0,1,2,3,4,5]}},
"color":{"datum":"Libor Excess Rolling Returns","type":"nominal"}}},
{"data":{"name":"libor"},"mark":{"type":"point","filled":true,"size":6,"color":"#ff0000","opacity":1,"clip":true},
"encoding":{"x":{"field":"t","type":"quantitative","axis":null},"y":{"field":"v","type":"quantitative","axis":null}}},
{"data":{"name":"events"},"mark":{"type":"rule","clip":true,"color":"#222222","strokeWidth":1},"encoding":{"x":{"field":"t","type":"quantitative","axis":null}}},
{"data":{"name":"events"},"transform":[{"filter":{"not":{"field":"label","equal":"01−Jan−2000"}}}],"mark":{"type":"text"},"encoding":{"x":{"field":"t","type":"quantitative","axis":null},"y":{"datum":-4,"type":"quantitative","axis":null},"text":{"field":"label"}}},
{"data":{"name":"events"},"transform":[{"filter":{"field":"label","equal":"01−Jan−2000"}}],"mark":{"type":"text"},"encoding":{"x":{"field":"t","type":"quantitative","axis":null},"y":{"datum":-4.5,"type":"quantitative","axis":null},"text":{"field":"label"}}}
],
"resolve":{"axis":{"x":"independent","y":"independent"}}}
],"spacing":53,"bounds":"flush","resolve":{"scale":{"x":"independent","y":"independent","color":"independent"},"legend":{"color":"independent"}}}
],"spacing":0,"bounds":"flush","resolve":{"scale":{"x":"independent","y":"independent","color":"independent"},"legend":{"color":"independent"}}},
{"hconcat":[
{"width":464,"height":367,
"title":{"text":"(c) 1-year LIBOR spread","offset":28,"dx":16},
"layer":[
{"data":{"name":"liq"},"mark":{"type":"line","clip":true,"strokeWidth":1,"color":"#000000"},
"encoding":{
"x":{"field":"t","type":"quantitative","scale":{"domain":[1988,2008],"nice":false,"zero":false},"axis":{"orient":"bottom","title":null,"values":[1988,1989,1990,1991,1992,1993,1994,1995,1996,1997,1998,1999,2000,2001,2002,2003,2004,2005,2006,2007,2008],"labelExpr":"datum.value % 2 == 0 ? 'Dec' + format((datum.value - 1) % 100, '02d') : ''"}},
"y":{"field":"v","type":"quantitative","scale":{"domain":[-5,5],"nice":false,"zero":false},"axis":{"orient":"left","title":null,"values":[-4,-3,-2,-1,0,1,2,3,4],"format":"~g"}},
"strokeDash":{"datum":"Liquidity","type":"nominal","scale":{"domain":["Liquidity","Libor − Treasuries (12 months)"],"range":[[1,0],[6,4]]},"legend":{"orient":"top-right","offset":3,"symbolStrokeColor":"#000000"}}}},
{"data":{"name":"spread"},"mark":{"type":"line","clip":true,"strokeWidth":1,"color":"#000000"},
"encoding":{
"x":{"field":"t","type":"quantitative","axis":{"orient":"top","title":null,"labels":false,"values":[1988,1989,1990,1991,1992,1993,1994,1995,1996,1997,1998,1999,2000,2001,2002,2003,2004,2005,2006,2007,2008]}},
"y":{"field":"v","type":"quantitative","axis":{"orient":"right","title":null,"labels":false,"values":[-4,-3,-2,-1,0,1,2,3,4]}},
"strokeDash":{"datum":"Libor − Treasuries (12 months)","type":"nominal"}}},
{"data":{"name":"events"},"mark":{"type":"rule","clip":true,"color":"#222222","strokeWidth":1},"encoding":{"x":{"field":"t","type":"quantitative","axis":null}}},
{"data":{"name":"events"},"transform":[{"filter":{"not":{"field":"label","equal":"01−Jan−2000"}}}],"mark":{"type":"text"},"encoding":{"x":{"field":"t","type":"quantitative","axis":null},"y":{"datum":-4,"type":"quantitative","axis":null},"text":{"field":"label"}}},
{"data":{"name":"events"},"transform":[{"filter":{"field":"label","equal":"01−Jan−2000"}}],"mark":{"type":"text"},"encoding":{"x":{"field":"t","type":"quantitative","axis":null},"y":{"datum":-4.5,"type":"quantitative","axis":null},"text":{"field":"label"}}}
],
"resolve":{"axis":{"x":"independent","y":"independent"}}},
{"width":465,"height":367,
"title":{"text":"(d) 5-year swap spread","offset":28,"dx":6},
"layer":[
{"data":{"name":"liq"},"mark":{"type":"line","clip":true,"strokeWidth":1},
"encoding":{
"x":{"field":"t","type":"quantitative","scale":{"domain":[1987.28,2008],"nice":false,"zero":false},"axis":{"orient":"bottom","title":null,"values":[1988,1989,1990,1991,1992,1993,1994,1995,1996,1997,1998,1999,2000,2001,2002,2003,2004,2005,2006,2007,2008],"labelExpr":"datum.value % 2 == 0 ? 'Dec' + format((datum.value - 1) % 100, '02d') : ''"}},
"y":{"field":"v","type":"quantitative","scale":{"domain":[-4,4],"nice":false,"zero":false},"axis":{"orient":"left","title":null,"values":[-3,-2,-1,0,1,2,3],"format":"~g"}},
"color":{"datum":"Liquidity Factor","type":"nominal","scale":{"domain":["Liquidity Factor","5−Year Swap Spread"],"range":["#0000ff","#ff0000"]},"legend":{"orient":"top-right","offset":5,"encode":{"symbols":{"update":{"strokeDash":{"signal":"datum.value === '5−Year Swap Spread' ? [6,4] : [1,0]"}}}}}}}},
{"data":{"name":"swap"},"mark":{"type":"line","clip":true,"strokeWidth":1,"strokeDash":[6,4]},
"encoding":{
"x":{"field":"t","type":"quantitative","axis":{"orient":"top","title":null,"labels":false,"values":[1988,1989,1990,1991,1992,1993,1994,1995,1996,1997,1998,1999,2000,2001,2002,2003,2004,2005,2006,2007,2008]}},
"y":{"field":"v","type":"quantitative","axis":{"orient":"right","title":null,"labels":false,"values":[-3,-2,-1,0,1,2,3]}},
"color":{"datum":"5−Year Swap Spread","type":"nominal"}}},
{"data":{"name":"events"},"mark":{"type":"rule","clip":true,"color":"#222222","strokeWidth":1},"encoding":{"x":{"field":"t","type":"quantitative","axis":null}}},
{"data":{"name":"events"},"transform":[{"filter":{"not":{"field":"label","equal":"01−Jan−2000"}}}],"mark":{"type":"text"},"encoding":{"x":{"field":"t","type":"quantitative","axis":null},"y":{"datum":-3,"type":"quantitative","axis":null},"text":{"field":"label"}}},
{"data":{"name":"events"},"transform":[{"filter":{"field":"label","equal":"01−Jan−2000"}}],"mark":{"type":"text"},"encoding":{"x":{"field":"t","type":"quantitative","axis":null},"y":{"datum":-3.5,"type":"quantitative","axis":null},"text":{"field":"label"}}}
],
"resolve":{"axis":{"x":"independent","y":"independent"}}}
],"spacing":54,"bounds":"flush","resolve":{"scale":{"x":"independent","y":"independent","color":"independent","strokeDash":"independent"},"legend":{"color":"independent","strokeDash":"independent"}}}
],
"spacing":480,
"bounds":"flush",
"resolve":{"scale":{"x":"independent","y":"independent","color":"independent","strokeDash":"independent"},"legend":{"color":"independent","strokeDash":"independent"}}
}
